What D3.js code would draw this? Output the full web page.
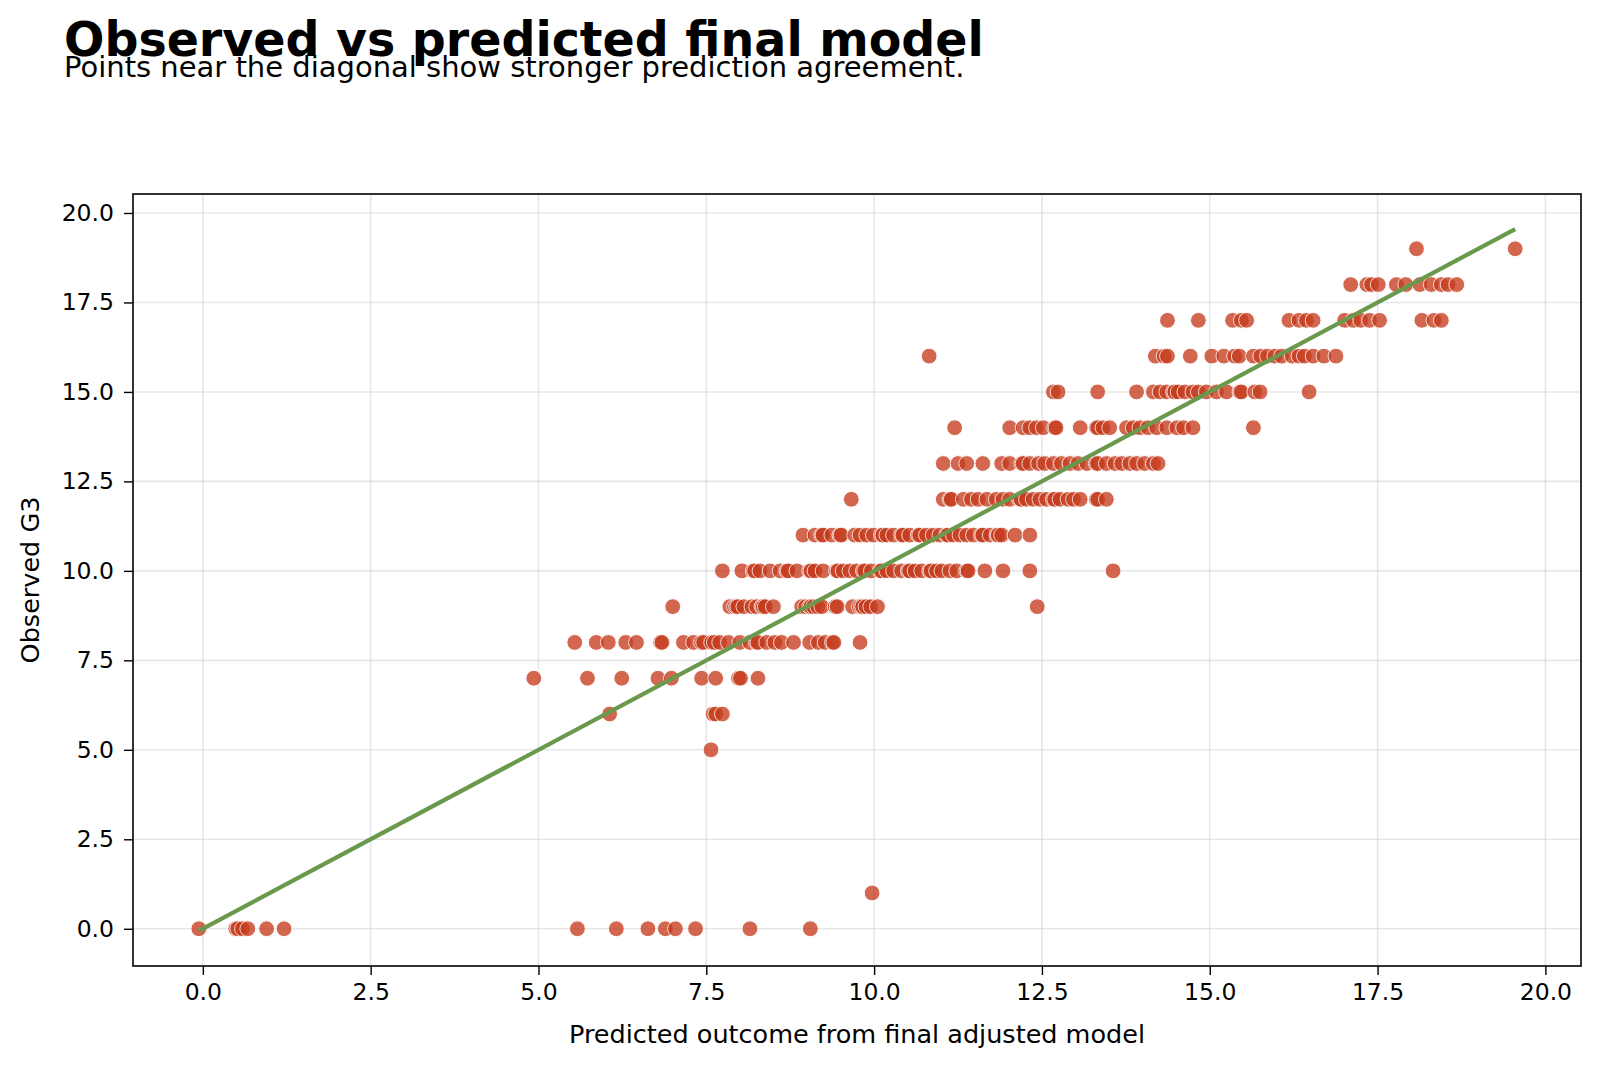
<!DOCTYPE html>
<html>
<head>
<meta charset="utf-8">
<script src="https://cdn.jsdelivr.net/npm/d3@7"></script>
<style>
  html, body { margin: 0; padding: 0; background: #ffffff; }
  svg { display: block; font-family: "DejaVu Sans", sans-serif; }
</style>
</head>
<body>
<svg id="chart" width="1600" height="1068"></svg>
<script>
// ---- Data: predicted values grouped by observed G3 grade ----
const g3_0  = [-0.06, 0.49, 0.52, 0.59, 0.67, 0.95, 1.21, 5.58, 6.16, 6.63, 6.89, 7.04, 7.34, 8.15, 9.05];
const g3_1  = [9.97];
const g3_5  = [7.57];
const g3_6  = [6.06, 7.6, 7.64, 7.74];
const g3_7  = [4.93, 5.73, 6.24, 6.78, 6.98, 7.43, 7.64, 7.98, 8.01, 8.27];
const g3_8  = [5.54, 5.86, 6.04, 6.30, 6.46, 6.82, 6.84, 7.16, 7.31, 7.43, 7.46, 7.58, 7.62, 7.70, 7.83, 8.0, 8.15, 8.25, 8.27, 8.4, 8.52, 8.62, 8.80, 9.04, 9.17, 9.27, 9.38, 9.40, 9.79];
const g3_9  = [7.0, 7.85, 7.92, 7.95, 7.97, 8.06, 8.18, 8.25, 8.33, 8.35, 8.38, 8.5, 8.92, 8.98, 9.04, 9.06, 9.1, 9.16, 9.22, 9.42, 9.45, 9.68, 9.78, 9.81, 9.83, 9.88, 9.95, 10.05, 12.43];
const g3_10 = [7.74, 8.03, 8.2, 8.22, 8.3, 8.45, 8.6, 8.7, 8.72, 8.85, 9.04, 9.06, 9.12, 9.24, 9.44, 9.46, 9.54, 9.64, 9.74, 9.84, 9.86, 9.96, 10.09, 10.11, 10.19, 10.29, 10.41, 10.51, 10.53, 10.61, 10.71, 10.83, 10.85, 10.93, 11.01, 11.13, 11.23, 11.38, 11.4, 11.65, 11.92, 12.32, 13.56];
const g3_11 = [8.94, 9.12, 9.22, 9.24, 9.37, 9.49, 9.51, 9.71, 9.79, 9.89, 9.99, 10.11, 10.13, 10.19, 10.29, 10.41, 10.43, 10.53, 10.66, 10.68, 10.78, 10.88, 10.98, 11.08, 11.1, 11.18, 11.28, 11.38, 11.48, 11.6, 11.62, 11.73, 11.83, 11.85, 11.9, 12.1, 12.32];
const g3_12 = [9.66, 11.03, 11.13, 11.15, 11.33, 11.45, 11.55, 11.68, 11.82, 11.92, 12.02, 12.17, 12.19, 12.27, 12.37, 12.47, 12.57, 12.67, 12.69, 12.77, 12.89, 12.97, 13.07, 13.31, 13.33, 13.46];
const g3_13 = [11.03, 11.25, 11.38, 11.62, 11.9, 12.02, 12.2, 12.22, 12.32, 12.45, 12.54, 12.67, 12.79, 12.92, 13.04, 13.17, 13.31, 13.33, 13.46, 13.59, 13.69, 13.81, 13.91, 14.03, 14.16, 14.23];
const g3_14 = [11.2, 12.02, 12.22, 12.32, 12.42, 12.52, 12.69, 12.71, 13.07, 13.31, 13.33, 13.41, 13.51, 13.76, 13.86, 13.96, 14.08, 14.21, 14.36, 14.51, 14.61, 14.75, 15.65];
const g3_15 = [12.67, 12.74, 13.33, 13.91, 14.16, 14.26, 14.36, 14.46, 14.48, 14.53, 14.63, 14.75, 14.83, 14.95, 15.1, 15.25, 15.45, 15.47, 15.67, 15.75, 16.48];
const g3_16 = [10.82, 14.19, 14.32, 14.37, 14.71, 15.03, 15.21, 15.37, 15.44, 15.65, 15.76, 15.86, 15.97, 16.07, 16.23, 16.33, 16.41, 16.54, 16.7, 16.88];
const g3_17 = [14.37, 14.83, 15.34, 15.47, 15.55, 16.18, 16.33, 16.44, 16.54, 17.01, 17.14, 17.25, 17.38, 17.53, 18.16, 18.34, 18.45];
const g3_18 = [17.1, 17.34, 17.41, 17.51, 17.78, 17.92, 18.13, 18.3, 18.45, 18.55, 18.68];
const g3_19 = [18.08, 19.55];

const observedGrades = [0, 1, 5, 6, 7, 8, 9, 10, 11, 12, 13, 14, 15, 16, 17, 18, 19];
const predictedByGrade = [g3_0, g3_1, g3_5, g3_6, g3_7, g3_8, g3_9, g3_10, g3_11, g3_12, g3_13, g3_14, g3_15, g3_16, g3_17, g3_18, g3_19];

const tickValues = [0, 2.5, 5, 7.5, 10, 12.5, 15, 17.5, 20];

const titleText = "Observed vs predicted final model";
const subtitleText = "Points near the diagonal show stronger prediction agreement.";
const xLabelText = "Predicted outcome from final adjusted model";
const yLabelText = "Observed G3";

// ---- Build points ----
const points = [];
observedGrades.forEach((g, i) => {
  predictedByGrade[i].forEach(p => points.push({ pred: p, obs: g }));
});

// ---- Layout ----
const svg = d3.select("#chart");
const frame = { left: 133, right: 1581, top: 194, bottom: 966 };

const allPred = points.map(d => d.pred);
const allObs = points.map(d => d.obs);
const lo = Math.min(d3.min(allPred), d3.min(allObs));
const hi = Math.max(d3.max(allPred), d3.max(allObs));
const pad = 0.05 * (hi - lo);

const x = d3.scaleLinear().domain([lo - pad, hi + pad]).range([frame.left, frame.right]);
const y = d3.scaleLinear().domain([lo - pad, hi + pad]).range([frame.bottom, frame.top]);

// Grid
const grid = svg.append("g");
grid.selectAll("line.gx").data(tickValues).enter().append("line")
  .attr("x1", d => x(d)).attr("x2", d => x(d))
  .attr("y1", frame.top).attr("y2", frame.bottom)
  .attr("stroke", "#b0b0b0").attr("stroke-opacity", 0.3).attr("stroke-width", 1.6);
grid.selectAll("line.gy").data(tickValues).enter().append("line")
  .attr("y1", d => y(d)).attr("y2", d => y(d))
  .attr("x1", frame.left).attr("x2", frame.right)
  .attr("stroke", "#b0b0b0").attr("stroke-opacity", 0.3).attr("stroke-width", 1.6);

// Points
svg.append("g").selectAll("circle").data(points).enter().append("circle")
  .attr("cx", d => x(d.pred))
  .attr("cy", d => y(d.obs))
  .attr("r", 7.9)
  .attr("fill", "#c63c1e")
  .attr("stroke", "#ffffff")
  .attr("stroke-width", 1)
  .attr("opacity", 0.78);

// Diagonal
svg.append("line")
  .attr("x1", x(lo)).attr("y1", y(lo))
  .attr("x2", x(hi)).attr("y2", y(hi))
  .attr("stroke", "#6a994e").attr("stroke-width", 4.2).attr("stroke-linecap", "butt");

// Frame
svg.append("rect")
  .attr("x", frame.left).attr("y", frame.top)
  .attr("width", frame.right - frame.left).attr("height", frame.bottom - frame.top)
  .attr("fill", "none").attr("stroke", "#000").attr("stroke-width", 1.6);

// Axes
const fmt = d3.format(".1f");
const xAxis = d3.axisBottom(x).tickValues(tickValues).tickFormat(fmt).tickSize(9).tickPadding(8);
const yAxis = d3.axisLeft(y).tickValues(tickValues).tickFormat(fmt).tickSize(9).tickPadding(10);

const gx = svg.append("g").attr("transform", `translate(0,${frame.bottom})`).call(xAxis);
const gy = svg.append("g").attr("transform", `translate(${frame.left},0)`).call(yAxis);
[gx, gy].forEach(g => {
  g.select(".domain").remove();
  g.selectAll(".tick line").attr("stroke", "#000").attr("stroke-width", 1.4);
  g.selectAll(".tick text").attr("fill", "#000").style("font-size", "23.5px").style("font-family", "DejaVu Sans");
});

// Axis labels
svg.append("text")
  .attr("x", (frame.left + frame.right) / 2).attr("y", 1043)
  .attr("text-anchor", "middle").style("font-size", "25.5px").attr("fill", "#000")
  .text(xLabelText);
svg.append("text")
  .attr("transform", `translate(39,${(frame.top + frame.bottom) / 2}) rotate(-90)`)
  .attr("text-anchor", "middle").style("font-size", "25.5px").attr("fill", "#000")
  .text(yLabelText);

// Titles
svg.append("text").attr("x", 64).attr("y", 56)
  .style("font-size", "47.5px").style("font-weight", "bold").attr("fill", "#000")
  .text(titleText);
svg.append("text").attr("x", 64).attr("y", 77)
  .style("font-size", "29px").attr("fill", "#000")
  .text(subtitleText);
</script>
</body>
</html>
